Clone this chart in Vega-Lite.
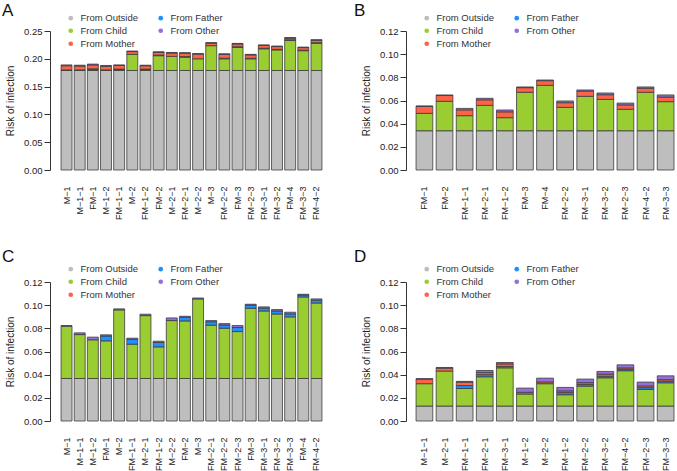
{
  "$schema": "https://vega.github.io/schema/vega-lite/v6.json",
  "background": "white",
  "padding": {"left": 2, "top": 2, "right": 0, "bottom": 0},
  "config": {
    "font": "Liberation Sans",
    "view": {"stroke": null},
    "axis": {"labelFont": "Liberation Sans", "labelFontSize": 9.5, "titleFont": "Liberation Sans", "titleFontSize": 10, "titleFontWeight": "normal", "labelColor": "#222", "titleColor": "#222", "domainColor": "#333", "tickColor": "#333", "grid": false},
    "axisX": {"ticks": false, "domain": false, "labelAngle": -90, "labelPadding": 16, "labelFontSize": 9},
    "axisY": {"tickSize": 6, "labelPadding": 2, "titlePadding": 8, "format": ".2f"},
    "legend": {"orient": "none", "legendX": 16, "legendY": -18, "columns": 2, "title": null, "symbolType": "circle", "symbolSize": 22, "symbolStrokeWidth": 0, "labelFont": "Liberation Sans", "labelFontSize": 9.5, "labelColor": "#333", "columnPadding": 17, "rowPadding": 2, "labelOffset": 5},
    "title": {"anchor": "start", "frame": "group", "fontSize": 17, "fontWeight": "normal", "font": "Liberation Sans", "color": "#111", "dx": -48, "offset": -7}
  },
  "datasets": {
    "A": [
      {"i":1,"h":"M−1","s":"From Outside","k":1,"v":0.179},{"i":1,"h":"M−1","s":"From Child","k":2,"v":0.001},{"i":1,"h":"M−1","s":"From Mother","k":4,"v":0.0075},{"i":1,"h":"M−1","s":"From Other","k":5,"v":0.0015},
      {"i":2,"h":"M−1−1","s":"From Outside","k":1,"v":0.179},{"i":2,"h":"M−1−1","s":"From Child","k":2,"v":0.001},{"i":2,"h":"M−1−1","s":"From Mother","k":4,"v":0.007},{"i":2,"h":"M−1−1","s":"From Other","k":5,"v":0.0015},
      {"i":3,"h":"FM−1","s":"From Outside","k":1,"v":0.179},{"i":3,"h":"FM−1","s":"From Child","k":2,"v":0.0015},{"i":3,"h":"FM−1","s":"From Father","k":3,"v":0.0015},{"i":3,"h":"FM−1","s":"From Mother","k":4,"v":0.007},{"i":3,"h":"FM−1","s":"From Other","k":5,"v":0.0015},
      {"i":4,"h":"M−1−2","s":"From Outside","k":1,"v":0.179},{"i":4,"h":"M−1−2","s":"From Child","k":2,"v":0.001},{"i":4,"h":"M−1−2","s":"From Mother","k":4,"v":0.0065},{"i":4,"h":"M−1−2","s":"From Other","k":5,"v":0.0015},
      {"i":5,"h":"FM−1−1","s":"From Outside","k":1,"v":0.179},{"i":5,"h":"FM−1−1","s":"From Child","k":2,"v":0.0015},{"i":5,"h":"FM−1−1","s":"From Father","k":3,"v":0.001},{"i":5,"h":"FM−1−1","s":"From Mother","k":4,"v":0.0065},{"i":5,"h":"FM−1−1","s":"From Other","k":5,"v":0.001},
      {"i":6,"h":"M−2","s":"From Outside","k":1,"v":0.179},{"i":6,"h":"M−2","s":"From Child","k":2,"v":0.029},{"i":6,"h":"M−2","s":"From Mother","k":4,"v":0.005},{"i":6,"h":"M−2","s":"From Other","k":5,"v":0.001},
      {"i":7,"h":"FM−1−2","s":"From Outside","k":1,"v":0.179},{"i":7,"h":"FM−1−2","s":"From Child","k":2,"v":0.0015},{"i":7,"h":"FM−1−2","s":"From Father","k":3,"v":0.001},{"i":7,"h":"FM−1−2","s":"From Mother","k":4,"v":0.006},{"i":7,"h":"FM−1−2","s":"From Other","k":5,"v":0.001},
      {"i":8,"h":"FM−2","s":"From Outside","k":1,"v":0.179},{"i":8,"h":"FM−2","s":"From Child","k":2,"v":0.0266},{"i":8,"h":"FM−2","s":"From Father","k":3,"v":0.001},{"i":8,"h":"FM−2","s":"From Mother","k":4,"v":0.005},{"i":8,"h":"FM−2","s":"From Other","k":5,"v":0.001},
      {"i":9,"h":"M−2−1","s":"From Outside","k":1,"v":0.179},{"i":9,"h":"M−2−1","s":"From Child","k":2,"v":0.0254},{"i":9,"h":"M−2−1","s":"From Mother","k":4,"v":0.006},{"i":9,"h":"M−2−1","s":"From Other","k":5,"v":0.001},
      {"i":10,"h":"FM−2−1","s":"From Outside","k":1,"v":0.179},{"i":10,"h":"FM−2−1","s":"From Child","k":2,"v":0.024},{"i":10,"h":"FM−2−1","s":"From Father","k":3,"v":0.001},{"i":10,"h":"FM−2−1","s":"From Mother","k":4,"v":0.006},{"i":10,"h":"FM−2−1","s":"From Other","k":5,"v":0.001},
      {"i":11,"h":"M−2−2","s":"From Outside","k":1,"v":0.179},{"i":11,"h":"M−2−2","s":"From Child","k":2,"v":0.021},{"i":11,"h":"M−2−2","s":"From Mother","k":4,"v":0.0085},{"i":11,"h":"M−2−2","s":"From Other","k":5,"v":0.001},
      {"i":12,"h":"M−3","s":"From Outside","k":1,"v":0.179},{"i":12,"h":"M−3","s":"From Child","k":2,"v":0.0446},{"i":12,"h":"M−3","s":"From Mother","k":4,"v":0.0045},{"i":12,"h":"M−3","s":"From Other","k":5,"v":0.001},
      {"i":13,"h":"FM−2−2","s":"From Outside","k":1,"v":0.179},{"i":13,"h":"FM−2−2","s":"From Child","k":2,"v":0.021},{"i":13,"h":"FM−2−2","s":"From Father","k":3,"v":0.001},{"i":13,"h":"FM−2−2","s":"From Mother","k":4,"v":0.007},{"i":13,"h":"FM−2−2","s":"From Other","k":5,"v":0.001},
      {"i":14,"h":"FM−3","s":"From Outside","k":1,"v":0.179},{"i":14,"h":"FM−3","s":"From Child","k":2,"v":0.0417},{"i":14,"h":"FM−3","s":"From Father","k":3,"v":0.001},{"i":14,"h":"FM−3","s":"From Mother","k":4,"v":0.005},{"i":14,"h":"FM−3","s":"From Other","k":5,"v":0.001},
      {"i":15,"h":"FM−2−3","s":"From Outside","k":1,"v":0.179},{"i":15,"h":"FM−2−3","s":"From Child","k":2,"v":0.021},{"i":15,"h":"FM−2−3","s":"From Father","k":3,"v":0.001},{"i":15,"h":"FM−2−3","s":"From Mother","k":4,"v":0.006},{"i":15,"h":"FM−2−3","s":"From Other","k":5,"v":0.001},
      {"i":16,"h":"FM−3−1","s":"From Outside","k":1,"v":0.179},{"i":16,"h":"FM−3−1","s":"From Child","k":2,"v":0.039},{"i":16,"h":"FM−3−1","s":"From Father","k":3,"v":0.001},{"i":16,"h":"FM−3−1","s":"From Mother","k":4,"v":0.005},{"i":16,"h":"FM−3−1","s":"From Other","k":5,"v":0.001},
      {"i":17,"h":"FM−3−2","s":"From Outside","k":1,"v":0.179},{"i":17,"h":"FM−3−2","s":"From Child","k":2,"v":0.037},{"i":17,"h":"FM−3−2","s":"From Father","k":3,"v":0.001},{"i":17,"h":"FM−3−2","s":"From Mother","k":4,"v":0.005},{"i":17,"h":"FM−3−2","s":"From Other","k":5,"v":0.001},
      {"i":18,"h":"FM−4","s":"From Outside","k":1,"v":0.179},{"i":18,"h":"FM−4","s":"From Child","k":2,"v":0.0542},{"i":18,"h":"FM−4","s":"From Father","k":3,"v":0.001},{"i":18,"h":"FM−4","s":"From Mother","k":4,"v":0.003},{"i":18,"h":"FM−4","s":"From Other","k":5,"v":0.001},
      {"i":19,"h":"FM−3−3","s":"From Outside","k":1,"v":0.179},{"i":19,"h":"FM−3−3","s":"From Child","k":2,"v":0.0356},{"i":19,"h":"FM−3−3","s":"From Father","k":3,"v":0.001},{"i":19,"h":"FM−3−3","s":"From Mother","k":4,"v":0.0045},{"i":19,"h":"FM−3−3","s":"From Other","k":5,"v":0.001},
      {"i":20,"h":"FM−4−2","s":"From Outside","k":1,"v":0.179},{"i":20,"h":"FM−4−2","s":"From Child","k":2,"v":0.049},{"i":20,"h":"FM−4−2","s":"From Father","k":3,"v":0.001},{"i":20,"h":"FM−4−2","s":"From Mother","k":4,"v":0.004},{"i":20,"h":"FM−4−2","s":"From Other","k":5,"v":0.0015}
    ],
    "B": [
      {"i":1,"h":"FM−1","s":"From Outside","k":1,"v":0.0339},{"i":1,"h":"FM−1","s":"From Child","k":2,"v":0.015},{"i":1,"h":"FM−1","s":"From Mother","k":4,"v":0.006},{"i":1,"h":"FM−1","s":"From Other","k":5,"v":0.0004},
      {"i":2,"h":"FM−2","s":"From Outside","k":1,"v":0.0339},{"i":2,"h":"FM−2","s":"From Child","k":2,"v":0.0254},{"i":2,"h":"FM−2","s":"From Mother","k":4,"v":0.005},{"i":2,"h":"FM−2","s":"From Other","k":5,"v":0.0005},
      {"i":3,"h":"FM−1−1","s":"From Outside","k":1,"v":0.0339},{"i":3,"h":"FM−1−1","s":"From Child","k":2,"v":0.013},{"i":3,"h":"FM−1−1","s":"From Mother","k":4,"v":0.005},{"i":3,"h":"FM−1−1","s":"From Other","k":5,"v":0.0013},
      {"i":4,"h":"FM−2−1","s":"From Outside","k":1,"v":0.0339},{"i":4,"h":"FM−2−1","s":"From Child","k":2,"v":0.0219},{"i":4,"h":"FM−2−1","s":"From Mother","k":4,"v":0.0048},{"i":4,"h":"FM−2−1","s":"From Other","k":5,"v":0.0013},
      {"i":5,"h":"FM−1−2","s":"From Outside","k":1,"v":0.0339},{"i":5,"h":"FM−1−2","s":"From Child","k":2,"v":0.0113},{"i":5,"h":"FM−1−2","s":"From Mother","k":4,"v":0.005},{"i":5,"h":"FM−1−2","s":"From Other","k":5,"v":0.0016},
      {"i":6,"h":"FM−3","s":"From Outside","k":1,"v":0.0339},{"i":6,"h":"FM−3","s":"From Child","k":2,"v":0.0332},{"i":6,"h":"FM−3","s":"From Mother","k":4,"v":0.004},{"i":6,"h":"FM−3","s":"From Other","k":5,"v":0.0006},
      {"i":7,"h":"FM−4","s":"From Outside","k":1,"v":0.0339},{"i":7,"h":"FM−4","s":"From Child","k":2,"v":0.0392},{"i":7,"h":"FM−4","s":"From Mother","k":4,"v":0.004},{"i":7,"h":"FM−4","s":"From Other","k":5,"v":0.0006},
      {"i":8,"h":"FM−2−2","s":"From Outside","k":1,"v":0.0339},{"i":8,"h":"FM−2−2","s":"From Child","k":2,"v":0.0202},{"i":8,"h":"FM−2−2","s":"From Mother","k":4,"v":0.004},{"i":8,"h":"FM−2−2","s":"From Other","k":5,"v":0.0015},
      {"i":9,"h":"FM−3−1","s":"From Outside","k":1,"v":0.0339},{"i":9,"h":"FM−3−1","s":"From Child","k":2,"v":0.0297},{"i":9,"h":"FM−3−1","s":"From Mother","k":4,"v":0.0045},{"i":9,"h":"FM−3−1","s":"From Other","k":5,"v":0.001},
      {"i":10,"h":"FM−3−2","s":"From Outside","k":1,"v":0.0339},{"i":10,"h":"FM−3−2","s":"From Child","k":2,"v":0.0271},{"i":10,"h":"FM−3−2","s":"From Mother","k":4,"v":0.004},{"i":10,"h":"FM−3−2","s":"From Other","k":5,"v":0.0015},
      {"i":11,"h":"FM−2−3","s":"From Outside","k":1,"v":0.0339},{"i":11,"h":"FM−2−3","s":"From Child","k":2,"v":0.0185},{"i":11,"h":"FM−2−3","s":"From Mother","k":4,"v":0.0038},{"i":11,"h":"FM−2−3","s":"From Other","k":5,"v":0.0016},
      {"i":12,"h":"FM−4−2","s":"From Outside","k":1,"v":0.0339},{"i":12,"h":"FM−4−2","s":"From Child","k":2,"v":0.0332},{"i":12,"h":"FM−4−2","s":"From Mother","k":4,"v":0.0035},{"i":12,"h":"FM−4−2","s":"From Other","k":5,"v":0.0011},
      {"i":13,"h":"FM−3−3","s":"From Outside","k":1,"v":0.0339},{"i":13,"h":"FM−3−3","s":"From Child","k":2,"v":0.0251},{"i":13,"h":"FM−3−3","s":"From Mother","k":4,"v":0.004},{"i":13,"h":"FM−3−3","s":"From Other","k":5,"v":0.0018}
    ],
    "C": [
      {"i":1,"h":"M−1","s":"From Outside","k":1,"v":0.0367},{"i":1,"h":"M−1","s":"From Child","k":2,"v":0.0451},{"i":1,"h":"M−1","s":"From Other","k":5,"v":0.0006},
      {"i":2,"h":"M−1−1","s":"From Outside","k":1,"v":0.0367},{"i":2,"h":"M−1−1","s":"From Child","k":2,"v":0.0379},{"i":2,"h":"M−1−1","s":"From Other","k":5,"v":0.0015},
      {"i":3,"h":"M−1−2","s":"From Outside","k":1,"v":0.0367},{"i":3,"h":"M−1−2","s":"From Child","k":2,"v":0.0334},{"i":3,"h":"M−1−2","s":"From Other","k":5,"v":0.0023},
      {"i":4,"h":"FM−1","s":"From Outside","k":1,"v":0.0367},{"i":4,"h":"FM−1","s":"From Child","k":2,"v":0.0325},{"i":4,"h":"FM−1","s":"From Father","k":3,"v":0.0042},{"i":4,"h":"FM−1","s":"From Other","k":5,"v":0.001},
      {"i":5,"h":"M−2","s":"From Outside","k":1,"v":0.0367},{"i":5,"h":"M−2","s":"From Child","k":2,"v":0.0592},{"i":5,"h":"M−2","s":"From Other","k":5,"v":0.0009},
      {"i":6,"h":"FM−1−1","s":"From Outside","k":1,"v":0.0367},{"i":6,"h":"FM−1−1","s":"From Child","k":2,"v":0.0296},{"i":6,"h":"FM−1−1","s":"From Father","k":3,"v":0.0042},{"i":6,"h":"FM−1−1","s":"From Other","k":5,"v":0.001},
      {"i":7,"h":"M−2−1","s":"From Outside","k":1,"v":0.0367},{"i":7,"h":"M−2−1","s":"From Child","k":2,"v":0.0543},{"i":7,"h":"M−2−1","s":"From Other","k":5,"v":0.0012},
      {"i":8,"h":"FM−1−2","s":"From Outside","k":1,"v":0.0367},{"i":8,"h":"FM−1−2","s":"From Child","k":2,"v":0.0273},{"i":8,"h":"FM−1−2","s":"From Father","k":3,"v":0.0038},{"i":8,"h":"FM−1−2","s":"From Other","k":5,"v":0.0011},
      {"i":9,"h":"M−2−2","s":"From Outside","k":1,"v":0.0367},{"i":9,"h":"M−2−2","s":"From Child","k":2,"v":0.05},{"i":9,"h":"M−2−2","s":"From Other","k":5,"v":0.0023},
      {"i":10,"h":"FM−2","s":"From Outside","k":1,"v":0.0367},{"i":10,"h":"FM−2","s":"From Child","k":2,"v":0.0497},{"i":10,"h":"FM−2","s":"From Father","k":3,"v":0.0032},{"i":10,"h":"FM−2","s":"From Other","k":5,"v":0.0008},
      {"i":11,"h":"M−3","s":"From Outside","k":1,"v":0.0367},{"i":11,"h":"M−3","s":"From Child","k":2,"v":0.0687},{"i":11,"h":"M−3","s":"From Other","k":5,"v":0.0008},
      {"i":12,"h":"FM−2−1","s":"From Outside","k":1,"v":0.0367},{"i":12,"h":"FM−2−1","s":"From Child","k":2,"v":0.046},{"i":12,"h":"FM−2−1","s":"From Father","k":3,"v":0.003},{"i":12,"h":"FM−2−1","s":"From Other","k":5,"v":0.001},
      {"i":13,"h":"FM−2−2","s":"From Outside","k":1,"v":0.0367},{"i":13,"h":"FM−2−2","s":"From Child","k":2,"v":0.0434},{"i":13,"h":"FM−2−2","s":"From Father","k":3,"v":0.0028},{"i":13,"h":"FM−2−2","s":"From Other","k":5,"v":0.0012},
      {"i":14,"h":"FM−2−3","s":"From Outside","k":1,"v":0.0367},{"i":14,"h":"FM−2−3","s":"From Child","k":2,"v":0.0405},{"i":14,"h":"FM−2−3","s":"From Father","k":3,"v":0.0035},{"i":14,"h":"FM−2−3","s":"From Other","k":5,"v":0.0017},
      {"i":15,"h":"FM−3","s":"From Outside","k":1,"v":0.0367},{"i":15,"h":"FM−3","s":"From Child","k":2,"v":0.0606},{"i":15,"h":"FM−3","s":"From Father","k":3,"v":0.0027},{"i":15,"h":"FM−3","s":"From Other","k":5,"v":0.0008},
      {"i":16,"h":"FM−3−1","s":"From Outside","k":1,"v":0.0367},{"i":16,"h":"FM−3−1","s":"From Child","k":2,"v":0.0583},{"i":16,"h":"FM−3−1","s":"From Father","k":3,"v":0.0025},{"i":16,"h":"FM−3−1","s":"From Other","k":5,"v":0.001},
      {"i":17,"h":"FM−3−2","s":"From Outside","k":1,"v":0.0367},{"i":17,"h":"FM−3−2","s":"From Child","k":2,"v":0.0557},{"i":17,"h":"FM−3−2","s":"From Father","k":3,"v":0.0026},{"i":17,"h":"FM−3−2","s":"From Other","k":5,"v":0.0012},
      {"i":18,"h":"FM−3−3","s":"From Outside","k":1,"v":0.0367},{"i":18,"h":"FM−3−3","s":"From Child","k":2,"v":0.0532},{"i":18,"h":"FM−3−3","s":"From Father","k":3,"v":0.0026},{"i":18,"h":"FM−3−3","s":"From Other","k":5,"v":0.0014},
      {"i":19,"h":"FM−4","s":"From Outside","k":1,"v":0.0367},{"i":19,"h":"FM−4","s":"From Child","k":2,"v":0.0704},{"i":19,"h":"FM−4","s":"From Father","k":3,"v":0.0016},{"i":19,"h":"FM−4","s":"From Other","k":5,"v":0.0007},
      {"i":20,"h":"FM−4−2","s":"From Outside","k":1,"v":0.0367},{"i":20,"h":"FM−4−2","s":"From Child","k":2,"v":0.0652},{"i":20,"h":"FM−4−2","s":"From Father","k":3,"v":0.0023},{"i":20,"h":"FM−4−2","s":"From Other","k":5,"v":0.0012}
    ],
    "D": [
      {"i":1,"h":"M−1−1","s":"From Outside","k":1,"v":0.0129},{"i":1,"h":"M−1−1","s":"From Child","k":2,"v":0.0193},{"i":1,"h":"M−1−1","s":"From Mother","k":4,"v":0.004},{"i":1,"h":"M−1−1","s":"From Other","k":5,"v":0.0003},
      {"i":2,"h":"M−2−1","s":"From Outside","k":1,"v":0.0129},{"i":2,"h":"M−2−1","s":"From Child","k":2,"v":0.0302},{"i":2,"h":"M−2−1","s":"From Mother","k":4,"v":0.0025},{"i":2,"h":"M−2−1","s":"From Other","k":5,"v":0.0006},
      {"i":3,"h":"FM−1−1","s":"From Outside","k":1,"v":0.0129},{"i":3,"h":"FM−1−1","s":"From Child","k":2,"v":0.0152},{"i":3,"h":"FM−1−1","s":"From Father","k":3,"v":0.0025},{"i":3,"h":"FM−1−1","s":"From Mother","k":4,"v":0.003},{"i":3,"h":"FM−1−1","s":"From Other","k":5,"v":0.0006},
      {"i":4,"h":"FM−2−1","s":"From Outside","k":1,"v":0.0129},{"i":4,"h":"FM−2−1","s":"From Child","k":2,"v":0.0253},{"i":4,"h":"FM−2−1","s":"From Father","k":3,"v":0.0018},{"i":4,"h":"FM−2−1","s":"From Mother","k":4,"v":0.0018},{"i":4,"h":"FM−2−1","s":"From Other","k":5,"v":0.0018},
      {"i":5,"h":"FM−3−1","s":"From Outside","k":1,"v":0.0129},{"i":5,"h":"FM−3−1","s":"From Child","k":2,"v":0.033},{"i":5,"h":"FM−3−1","s":"From Father","k":3,"v":0.0012},{"i":5,"h":"FM−3−1","s":"From Mother","k":4,"v":0.0022},{"i":5,"h":"FM−3−1","s":"From Other","k":5,"v":0.0012},
      {"i":6,"h":"M−1−2","s":"From Outside","k":1,"v":0.0129},{"i":6,"h":"M−1−2","s":"From Child","k":2,"v":0.0104},{"i":6,"h":"M−1−2","s":"From Mother","k":4,"v":0.0015},{"i":6,"h":"M−1−2","s":"From Other","k":5,"v":0.0036},
      {"i":7,"h":"M−2−2","s":"From Outside","k":1,"v":0.0129},{"i":7,"h":"M−2−2","s":"From Child","k":2,"v":0.0193},{"i":7,"h":"M−2−2","s":"From Mother","k":4,"v":0.0015},{"i":7,"h":"M−2−2","s":"From Other","k":5,"v":0.0033},
      {"i":8,"h":"FM−1−2","s":"From Outside","k":1,"v":0.0129},{"i":8,"h":"FM−1−2","s":"From Child","k":2,"v":0.0098},{"i":8,"h":"FM−1−2","s":"From Father","k":3,"v":0.0018},{"i":8,"h":"FM−1−2","s":"From Mother","k":4,"v":0.0015},{"i":8,"h":"FM−1−2","s":"From Other","k":5,"v":0.003},
      {"i":9,"h":"FM−2−2","s":"From Outside","k":1,"v":0.0129},{"i":9,"h":"FM−2−2","s":"From Child","k":2,"v":0.0172},{"i":9,"h":"FM−2−2","s":"From Father","k":3,"v":0.0015},{"i":9,"h":"FM−2−2","s":"From Mother","k":4,"v":0.0015},{"i":9,"h":"FM−2−2","s":"From Other","k":5,"v":0.0031},
      {"i":10,"h":"FM−3−2","s":"From Outside","k":1,"v":0.0129},{"i":10,"h":"FM−3−2","s":"From Child","k":2,"v":0.0244},{"i":10,"h":"FM−3−2","s":"From Father","k":3,"v":0.0014},{"i":10,"h":"FM−3−2","s":"From Mother","k":4,"v":0.0018},{"i":10,"h":"FM−3−2","s":"From Other","k":5,"v":0.0023},
      {"i":11,"h":"FM−4−2","s":"From Outside","k":1,"v":0.0129},{"i":11,"h":"FM−4−2","s":"From Child","k":2,"v":0.0305},{"i":11,"h":"FM−4−2","s":"From Father","k":3,"v":0.0012},{"i":11,"h":"FM−4−2","s":"From Mother","k":4,"v":0.0012},{"i":11,"h":"FM−4−2","s":"From Other","k":5,"v":0.0027},
      {"i":12,"h":"FM−2−3","s":"From Outside","k":1,"v":0.0129},{"i":12,"h":"FM−2−3","s":"From Child","k":2,"v":0.0144},{"i":12,"h":"FM−2−3","s":"From Father","k":3,"v":0.0015},{"i":12,"h":"FM−2−3","s":"From Mother","k":4,"v":0.0015},{"i":12,"h":"FM−2−3","s":"From Other","k":5,"v":0.0033},
      {"i":13,"h":"FM−3−3","s":"From Outside","k":1,"v":0.0129},{"i":13,"h":"FM−3−3","s":"From Child","k":2,"v":0.0201},{"i":13,"h":"FM−3−3","s":"From Father","k":3,"v":0.0014},{"i":13,"h":"FM−3−3","s":"From Mother","k":4,"v":0.0013},{"i":13,"h":"FM−3−3","s":"From Other","k":5,"v":0.0033}
    ]
  },
  "columns": 2,
  "bounds": "flush",
  "spacing": {"row": 112, "column": 73},
  "resolve": {"scale": {"color": "independent", "x": "independent", "y": "independent"}, "legend": {"color": "independent"}},
  "concat": [
    {
      "width": 283, "height": 139,
      "title": {"text": "A"},
      "data": {"name": "A"},
      "mark": {"type": "bar", "stroke": "#3c3c3c", "strokeWidth": 0.8},
      "encoding": {
        "x": {"field": "h", "type": "nominal", "sort": {"field": "i", "op": "min"}, "scale": {"paddingInner": 0.1667, "paddingOuter": 0.84}, "axis": {"title": null, "labelPadding": 16}},
        "y": {"field": "v", "type": "quantitative", "stack": "zero", "scale": {"domain": [0, 0.25], "nice": false}, "axis": {"title": "Risk of infection", "values": [0, 0.05, 0.1, 0.15, 0.2, 0.25]}},
        "color": {"field": "s", "type": "nominal", "scale": {"domain": ["From Outside", "From Child", "From Mother", "From Father", "From Other"], "range": ["#bebebe", "#9acd32", "#ff6347", "#1e90ff", "#9370db"]}, "legend": {"encode": {"labels": {"update": {"fill": {"signal": "datum.value == 'From Mother' ? '#888888' : '#333333'"}}}, "symbols": {"update": {"fillOpacity": {"signal": "datum.value == 'From Mother' ? 0.6 : 1"}}}}}},
        "order": {"field": "k"}
      }
    },
    {
      "width": 268, "height": 139,
      "title": {"text": "B", "dx": -52},
      "data": {"name": "B"},
      "mark": {"type": "bar", "stroke": "#3c3c3c", "strokeWidth": 0.8},
      "encoding": {
        "x": {"field": "h", "type": "nominal", "sort": {"field": "i", "op": "min"}, "scale": {"paddingInner": 0.1667, "paddingOuter": 0.25, "align": 1}, "axis": {"title": null, "labelPadding": 16}},
        "y": {"field": "v", "type": "quantitative", "stack": "zero", "scale": {"domain": [0, 0.12], "nice": false}, "axis": {"title": "Risk of infection", "values": [0, 0.02, 0.04, 0.06, 0.08, 0.1, 0.12]}},
        "color": {"field": "s", "type": "nominal", "scale": {"domain": ["From Outside", "From Child", "From Mother", "From Father", "From Other"], "range": ["#bebebe", "#9acd32", "#ff6347", "#1e90ff", "#9370db"]}},
        "order": {"field": "k"}
      }
    },
    {
      "width": 283, "height": 139,
      "title": {"text": "C", "offset": -2},
      "data": {"name": "C"},
      "mark": {"type": "bar", "stroke": "#3c3c3c", "strokeWidth": 0.8},
      "encoding": {
        "x": {"field": "h", "type": "nominal", "sort": {"field": "i", "op": "min"}, "scale": {"paddingInner": 0.1667, "paddingOuter": 0.84}, "axis": {"title": null, "labelPadding": 16}},
        "y": {"field": "v", "type": "quantitative", "stack": "zero", "scale": {"domain": [0, 0.12], "nice": false}, "axis": {"title": "Risk of infection", "values": [0, 0.02, 0.04, 0.06, 0.08, 0.1, 0.12]}},
        "color": {"field": "s", "type": "nominal", "scale": {"domain": ["From Outside", "From Child", "From Mother", "From Father", "From Other"], "range": ["#bebebe", "#9acd32", "#ff6347", "#1e90ff", "#9370db"]}, "legend": {"encode": {"labels": {"update": {"fill": {"signal": "datum.value == 'From Mother' ? '#888888' : '#333333'"}}}, "symbols": {"update": {"fillOpacity": {"signal": "datum.value == 'From Mother' ? 0.6 : 1"}}}}}},
        "order": {"field": "k"}
      }
    },
    {
      "width": 268, "height": 139,
      "title": {"text": "D", "dx": -52, "offset": -2},
      "data": {"name": "D"},
      "mark": {"type": "bar", "stroke": "#3c3c3c", "strokeWidth": 0.8},
      "encoding": {
        "x": {"field": "h", "type": "nominal", "sort": {"field": "i", "op": "min"}, "scale": {"paddingInner": 0.1667, "paddingOuter": 0.25, "align": 1}, "axis": {"title": null, "labelPadding": 16}},
        "y": {"field": "v", "type": "quantitative", "stack": "zero", "scale": {"domain": [0, 0.12], "nice": false}, "axis": {"title": "Risk of infection", "values": [0, 0.02, 0.04, 0.06, 0.08, 0.1, 0.12]}},
        "color": {"field": "s", "type": "nominal", "scale": {"domain": ["From Outside", "From Child", "From Mother", "From Father", "From Other"], "range": ["#bebebe", "#9acd32", "#ff6347", "#1e90ff", "#9370db"]}},
        "order": {"field": "k"}
      }
    }
  ]
}
